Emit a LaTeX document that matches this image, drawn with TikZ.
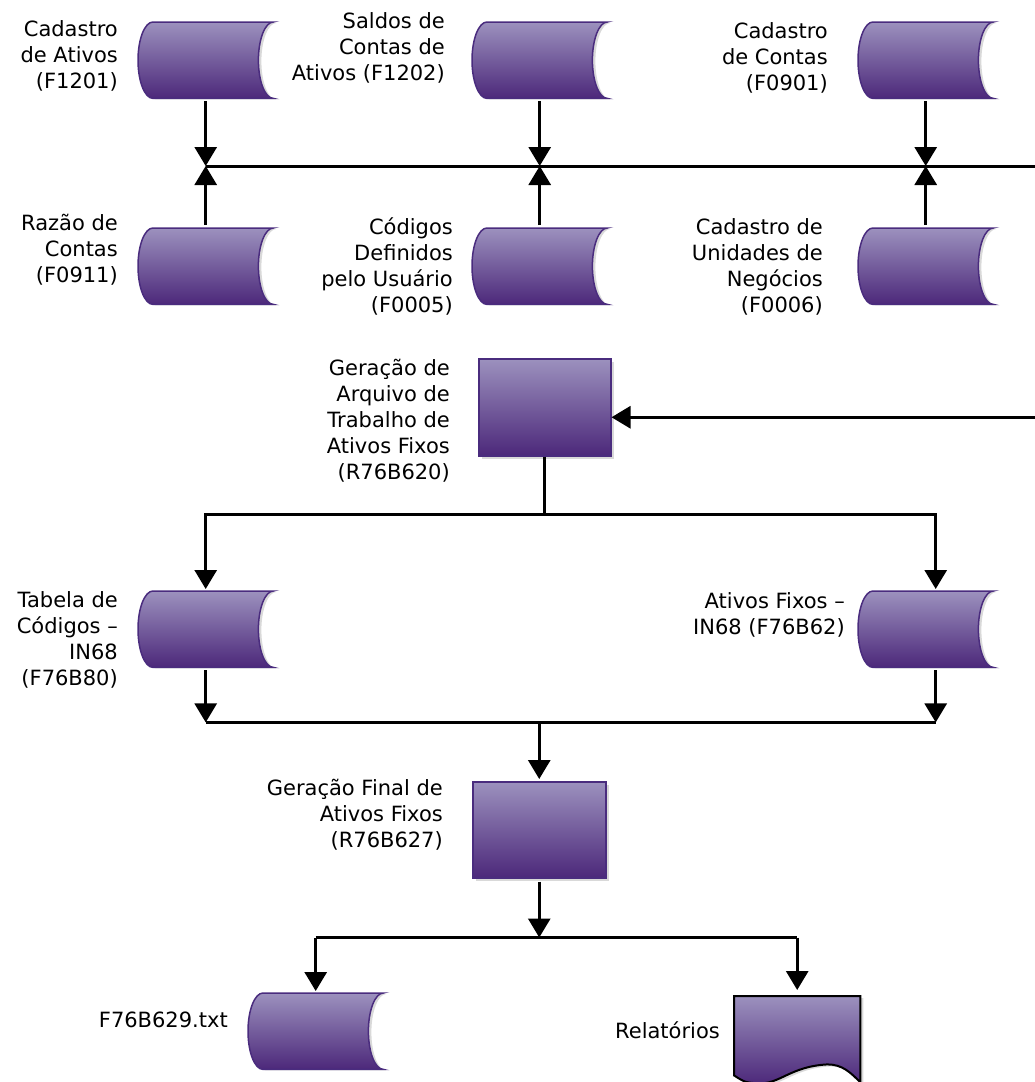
\documentclass[tikz,border=0pt]{standalone}
\usepackage{fontspec}
\setmainfont{DejaVu Sans}
\usetikzlibrary{arrows.meta,shadows}

\definecolor{dtop}{RGB}{156,145,190}
\definecolor{dbot}{RGB}{76,40,122}
\definecolor{dedge}{RGB}{74,44,126}

\tikzset{
  store/.style={rectangle, minimum width=135pt, minimum height=76pt, inner sep=0pt, anchor=north west},
  procbox/.style={rectangle, draw=dedge, line width=1.5pt, top color=dtop, bottom color=dbot, minimum width=132pt, minimum height=97pt, inner sep=0pt, anchor=north west, drop shadow={shadow xshift=3pt, shadow yshift=-3pt, fill=black!15, opacity=1}},
  docbox/.style={rectangle, minimum width=126pt, minimum height=86pt, inner sep=0pt, anchor=north west},
  lbl/.style={align=right, anchor=east, inner sep=0pt, font=\fontsize{21pt}{26pt}\selectfont},
  wire/.style={line width=3pt},
  flow/.style={line width=3pt, -{Triangle[length=19pt,width=22pt]}},
}

% desenha o simbolo de dados armazenados sobre o no #1
\newcommand{\storedata}[1]{%
  \path[draw=dedge, line width=1.5pt, top color=dtop, bottom color=dbot, drop shadow={shadow xshift=3pt, shadow yshift=-1pt, fill=black!15, opacity=1}]
    ([xshift=15pt]#1.north west) -- (#1.north east)
    .. controls ([xshift=-8.3pt]#1.north east) and ([xshift=-15pt,yshift=21pt]#1.east) .. ([xshift=-15pt]#1.east)
    .. controls ([xshift=-15pt,yshift=-21pt]#1.east) and ([xshift=-8.3pt]#1.south east) .. (#1.south east)
    -- ([xshift=15pt]#1.south west)
    .. controls ([xshift=6.7pt]#1.south west) and ([yshift=-21pt]#1.west) .. (#1.west)
    .. controls ([yshift=21pt]#1.west) and ([xshift=6.7pt]#1.north west) .. cycle;}

\begin{document}
\begin{tikzpicture}[x=1pt, y=-1pt]

\useasboundingbox (0,0) rectangle (1034,1082);

%% tabelas de entrada
\node at (138,22) [store] (cadAtivos) {};
\node at (472,22) [store] (saldos) {};
\node at (858,22) [store] (cadContas) {};
\node at (138,228) [store] (razao) {};
\node at (472,228) [store] (codigos) {};
\node at (858,228) [store] (unidades) {};

%% tabelas de trabalho e saida
\node at (138,591) [store] (tabela) {};
\node at (858,591) [store] (ativosIN) {};
\node at (248,993) [store] (txt) {};

\foreach \n in {cadAtivos,saldos,cadContas,razao,codigos,unidades,tabela,ativosIN,txt} {\storedata{\n}}

%% programas
\node at (478,358) [procbox] (geracao) {};
\node at (472,781) [procbox, minimum width=133pt, minimum height=96pt] (final) {};

%% relatorio
\node at (734,996) [docbox] (relat) {};
\path[draw=black, line width=2pt, top color=dtop, bottom color=dbot, drop shadow={shadow xshift=3pt, shadow yshift=-2pt, fill=black!15, opacity=1}]
  (relat.north west) -- (relat.north east) -- (relat.south east)
  .. controls ([xshift=-10pt,yshift=10pt]relat.south east) and ([xshift=-18pt,yshift=18pt]relat.south east) .. ([xshift=-33pt,yshift=18pt]relat.south east)
  .. controls ([xshift=56pt,yshift=16pt]relat.south west) and ([xshift=46pt,yshift=-2pt]relat.south west) .. ([xshift=24pt,yshift=-1pt]relat.south west)
  .. controls ([xshift=11pt]relat.south west) .. ([yshift=7pt]relat.south west)
  -- cycle;

%% rotulos
\node at (118,56) [lbl] (lCadAtivos) {Cadastro\\de Ativos\\(F1201)};
\node at (445,48) [lbl] (lSaldos) {Saldos de\\Contas de\\Ativos (F1202)};
\node at (828,58) [lbl] (lCadContas) {Cadastro\\de Contas\\(F0901)};
\node at (118,250) [lbl] (lRazao) {Razão de\\Contas\\(F0911)};
\node at (453,266) [lbl] (lCodigos) {Códigos\\Definidos\\pelo Usuário\\(F0005)};
\node at (823,267) [lbl] (lUnidades) {Cadastro de\\Unidades de\\Negócios\\(F0006)};
\node at (450,421) [lbl] (lGeracao) {Geração de\\Arquivo de\\Trabalho de\\Ativos Fixos\\(R76B620)};
\node at (118,640) [lbl] (lTabela) {Tabela de\\Códigos –\\IN68\\(F76B80)};
\node at (845,615) [lbl] (lAtivosIN) {Ativos Fixos –\\IN68 (F76B62)};
\node at (443,815) [lbl] (lFinal) {Geração Final de\\Ativos Fixos\\(R76B627)};
\node at (228,1020) [lbl] (lTxt) {F76B629.txt};
\node at (720,1030) [lbl] (lRelat) {Relatórios};

%% barramento superior
\coordinate (busR) at (1040,166);
\coordinate (jA) at (cadAtivos.south |- busR);
\coordinate (jB) at (saldos.south |- busR);
\coordinate (jC) at (cadContas.south |- busR);

\draw[flow, shorten <=3pt] (cadAtivos.south) -- (jA);
\draw[flow, shorten <=3pt] (saldos.south) -- (jB);
\draw[flow, shorten <=3pt] (cadContas.south) -- (jC);
\draw[flow, shorten <=3pt] (razao.north) -- (jA);
\draw[flow, shorten <=3pt] (codigos.north) -- (jB);
\draw[flow, shorten <=3pt] (unidades.north) -- (jC);
\draw[flow] (jA) -- (busR) |- ([yshift=-10pt]geracao.east);

%% saida do R76B620
\coordinate (split1) at ([yshift=-58pt]geracao.south);
\draw[wire] (geracao.south) -- (split1);
\draw[flow, shorten >=2pt] (split1) -| (tabela.north);
\draw[flow, shorten >=2pt] (split1) -| ([xshift=10pt]ativosIN.north);

%% entrada do R76B627
\coordinate (merge) at ([yshift=-55pt]tabela.south);
\draw[flow, shorten <=3pt] (tabela.south) -- (tabela.south |- merge);
\draw[flow, shorten <=3pt] ([xshift=10pt]ativosIN.south) -- ([xshift=10pt]ativosIN.south |- merge);
\draw[wire] (tabela.south |- merge) -- ([xshift=10pt]ativosIN.south |- merge);
\draw[flow, shorten >=2pt] (final.north |- merge) -- (final.north);

%% saida do R76B627
\coordinate (split2) at ([yshift=-59pt]final.south);
\draw[flow, shorten <=3pt] (final.south) -- (split2);
\draw[wire] (txt.north |- split2) -- (relat.north |- split2);
\draw[flow, shorten >=2pt] (txt.north |- split2) -- (txt.north);
\draw[flow, shorten >=6pt] (relat.north |- split2) -- (relat.north);

\end{tikzpicture}
\end{document}
